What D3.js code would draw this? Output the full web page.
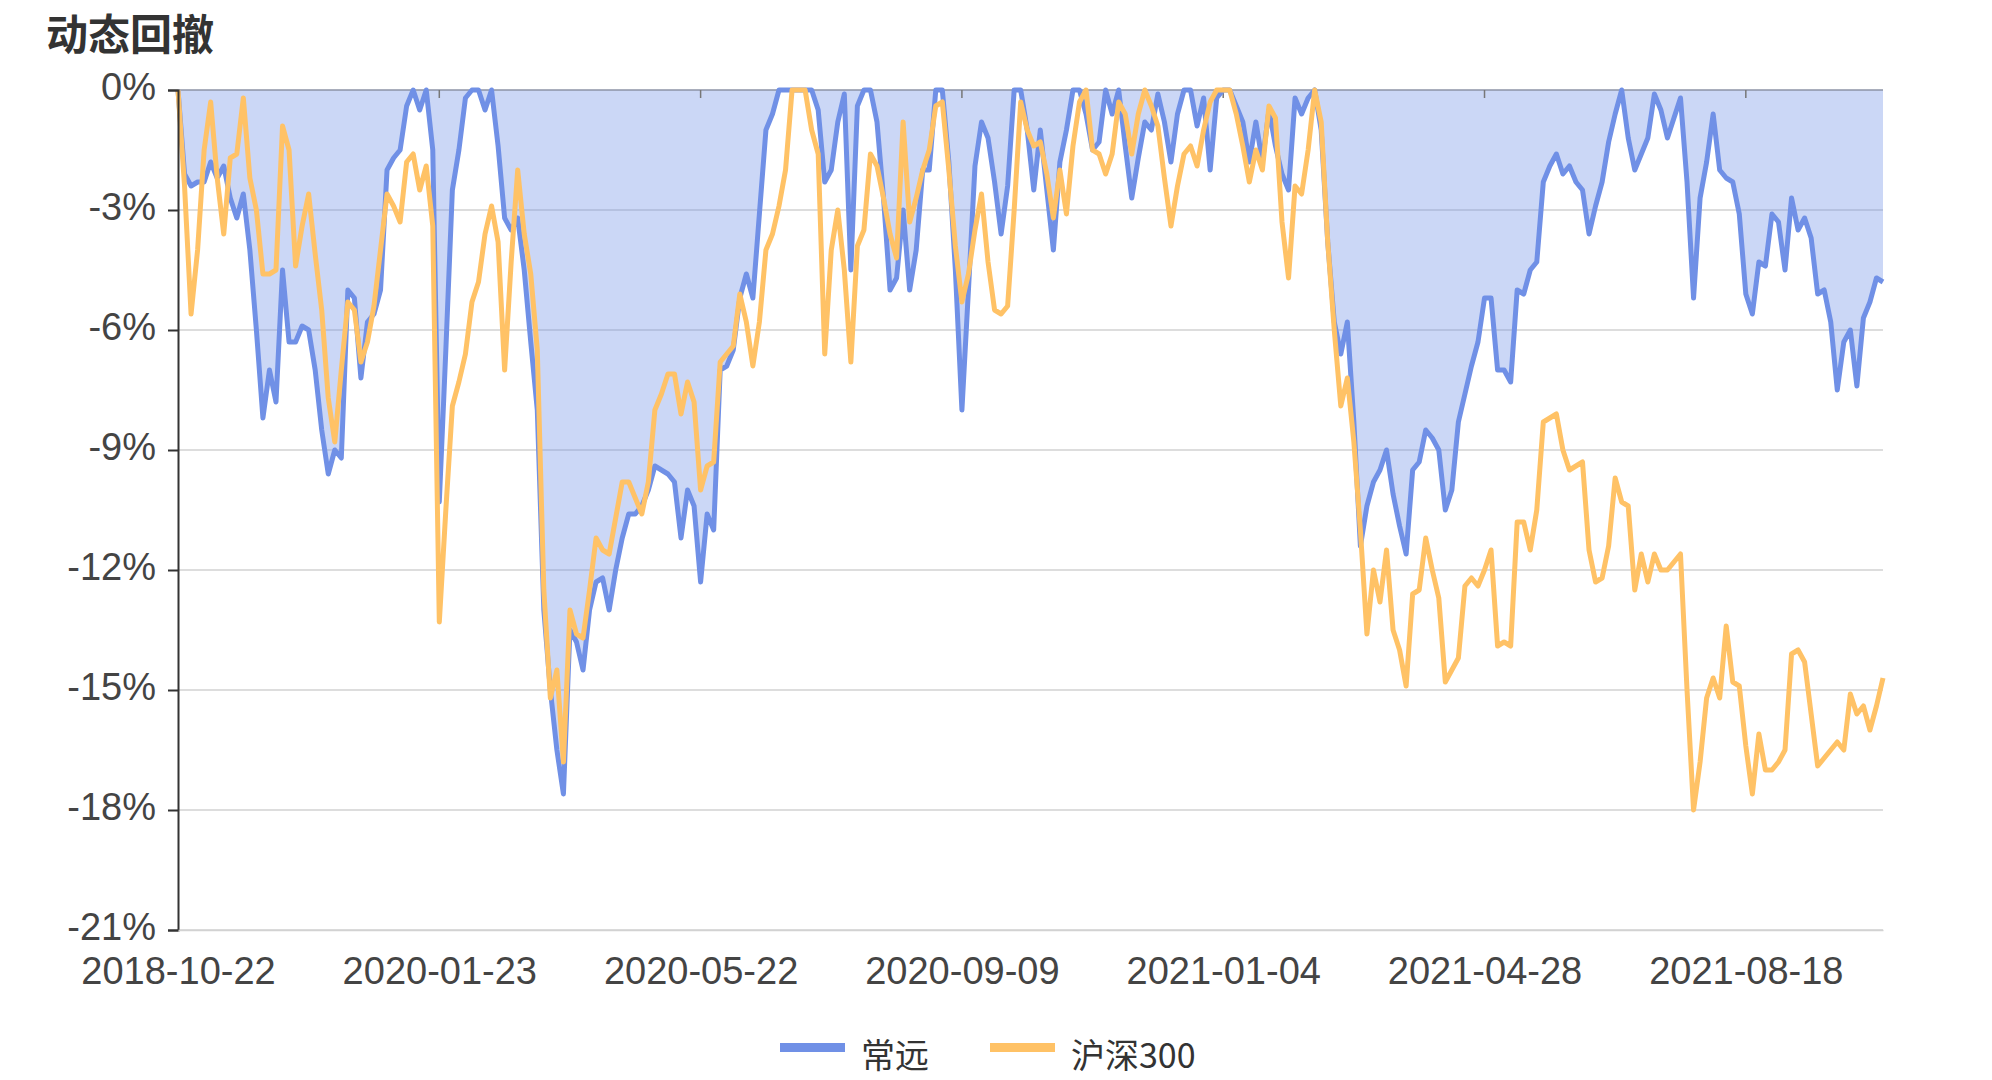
<!DOCTYPE html>
<html>
<head>
<meta charset="utf-8">
<script src="https://cdn.jsdelivr.net/npm/d3@7/dist/d3.min.js"></script>
<style>
  html, body { margin: 0; padding: 0; background: #ffffff; }
  svg { display: block; }
</style>
</head>
<body>
<svg id="chart" width="1992" height="1080"></svg>
<script>
// ---------------- data ----------------
const title = "动态回撤";
const seriesNames = ["常远", "沪深300"];
const tickLabels = ["2018-10-22", "2020-01-23", "2020-05-22", "2020-09-09", "2021-01-04", "2021-04-28", "2021-08-18"];
const tickIndex = [0, 40, 80, 120, 160, 200, 240];
const yTicks = [0, -3, -6, -9, -12, -15, -18, -21];

// 常远 drawdown (%)
const changyuan = [
  0, -2.1, -2.4, -2.3, -2.3, -1.8, -2.2, -1.9, -2.7, -3.2,
  -2.6, -4.0, -6.0, -8.2, -7.0, -7.8, -4.5, -6.3, -6.3, -5.9,
  -6.0, -7.0, -8.5, -9.6, -9.0, -9.2, -5.0, -5.2, -7.2, -5.8,
  -5.6, -5.0, -2.0, -1.7, -1.5, -0.4, 0, -0.5, 0, -1.5,
  -10.3, -6.5, -2.5, -1.5, -0.2, 0, 0, -0.5, 0, -1.4,
  -3.2, -3.5, -3.2, -4.5, -6.3, -8.0, -13.0, -15.0, -16.5, -17.6,
  -13.5, -13.8, -14.5, -13.0, -12.3, -12.2, -13.0, -12.0, -11.2, -10.6,
  -10.6, -10.4, -10.0, -9.4, -9.5, -9.6, -9.8, -11.2, -10.0, -10.4,
  -12.3, -10.6, -11.0, -7.0, -6.9, -6.5, -5.2, -4.6, -5.2, -3.1,
  -1.0, -0.6, 0, 0, 0, 0, 0, 0, -0.5, -2.3,
  -2.0, -0.8, -0.1, -4.5, -0.4, 0, 0, -0.8, -2.7, -5.0,
  -4.7, -3.0, -5.0, -4.0, -2.0, -2.0, 0, 0, -1.8, -4.5,
  -8.0, -5.0, -1.9, -0.8, -1.2, -2.3, -3.6, -2.4, 0, 0,
  -1.0, -2.5, -1.0, -2.5, -4.0, -1.8, -1.0, 0, 0, -0.6,
  -1.5, -1.3, 0, -0.6, 0, -1.4, -2.7, -1.7, -0.8, -1.0,
  -0.1, -0.8, -1.8, -0.6, 0, 0, -0.9, -0.2, -2.0, -0.2,
  0, 0, -0.4, -0.8, -1.8, -0.8, -1.8, -0.5, -1.4, -2.1,
  -2.5, -0.2, -0.6, -0.2, 0, -1.0, -3.8, -5.8, -6.6, -5.8,
  -8.3, -11.4, -10.4, -9.8, -9.5, -9.0, -10.1, -10.9, -11.6, -9.5,
  -9.3, -8.5, -8.7, -9.0, -10.5, -10.0, -8.3, -7.6, -6.9, -6.3,
  -5.2, -5.2, -7.0, -7.0, -7.3, -5.0, -5.1, -4.5, -4.3, -2.3,
  -1.9, -1.6, -2.1, -1.9, -2.3, -2.5, -3.6, -2.9, -2.3, -1.3,
  -0.6, 0, -1.2, -2.0, -1.6, -1.2, -0.1, -0.5, -1.2, -0.7,
  -0.2, -2.3, -5.2, -2.7, -1.8, -0.6, -2.0, -2.2, -2.3, -3.1,
  -5.1, -5.6, -4.3, -4.4, -3.1, -3.3, -4.5, -2.7, -3.5, -3.2,
  -3.7, -5.1, -5.0, -5.8, -7.5, -6.3, -6.0, -7.4, -5.7, -5.3,
  -4.7, -4.8
];

// 沪深300 drawdown (%)
const hs300 = [
  0, -2.4, -5.6, -4.0, -1.5, -0.3, -2.2, -3.6, -1.7, -1.6,
  -0.2, -2.2, -3.0, -4.6, -4.6, -4.5, -0.9, -1.5, -4.4, -3.4,
  -2.6, -4.1, -5.5, -7.7, -8.8, -7.0, -5.3, -5.5, -6.8, -6.3,
  -5.4, -4.0, -2.6, -2.9, -3.3, -1.8, -1.6, -2.5, -1.9, -3.4,
  -13.3, -10.5, -7.9, -7.3, -6.6, -5.3, -4.8, -3.6, -2.9, -3.8,
  -7.0, -4.3, -2.0, -3.6, -4.6, -6.5, -12.5, -15.2, -14.5, -16.8,
  -13.0, -13.6, -13.7, -12.5, -11.2, -11.5, -11.6, -10.7, -9.8, -9.8,
  -10.2, -10.6, -9.8, -8.0, -7.6, -7.1, -7.1, -8.1, -7.3, -7.8,
  -10.0, -9.4, -9.3, -6.8, -6.6, -6.4, -5.1, -5.8, -6.9, -5.8,
  -4.0, -3.6, -2.9, -2.0, 0, 0, 0, -1.0, -1.6, -6.6,
  -4.0, -3.0, -4.5, -6.8, -3.9, -3.5, -1.6, -1.9, -2.7, -3.6,
  -4.2, -0.8, -3.3, -2.7, -2.0, -1.5, -0.4, -0.3, -2.0, -3.9,
  -5.3, -4.6, -3.5, -2.6, -4.3, -5.5, -5.6, -5.4, -3.0, -0.3,
  -1.0, -1.4, -1.3, -2.1, -3.2, -2.0, -3.1, -1.4, -0.3, 0,
  -1.5, -1.6, -2.1, -1.6, -0.3, -0.6, -1.6, -0.6, 0, -0.4,
  -0.9, -2.2, -3.4, -2.4, -1.6, -1.4, -1.9, -1.0, -0.3, 0,
  0, 0, -0.6, -1.4, -2.3, -1.5, -2.0, -0.4, -0.7, -3.3,
  -4.7, -2.4, -2.6, -1.5, 0, -0.8, -3.8, -6.0, -7.9, -7.2,
  -8.8, -11.0, -13.6, -12.0, -12.8, -11.5, -13.5, -14.0, -14.9, -12.6,
  -12.5, -11.2, -12.0, -12.7, -14.8, -14.5, -14.2, -12.4, -12.2, -12.4,
  -12.0, -11.5, -13.9, -13.8, -13.9, -10.8, -10.8, -11.5, -10.5, -8.3,
  -8.2, -8.1, -9.0, -9.5, -9.4, -9.3, -11.5, -12.3, -12.2, -11.4,
  -9.7, -10.3, -10.4, -12.5, -11.6, -12.3, -11.6, -12.0, -12.0, -11.8,
  -11.6, -15.0, -18.0, -16.8, -15.2, -14.7, -15.2, -13.4, -14.8, -14.9,
  -16.4, -17.6, -16.1, -17.0, -17.0, -16.8, -16.5, -14.1, -14.0, -14.3,
  -15.6, -16.9, -16.7, -16.5, -16.3, -16.5, -15.1, -15.6, -15.4, -16.0,
  -15.4, -14.7
];

// ---------------- drawing ----------------
const colors = { blue: "#7090e6", orange: "#ffc266", area: "rgba(112,144,230,0.36)" };
const plot = { left: 178, right: 1883, top: 90, bottom: 930 };
const axisFont = "'Liberation Sans', Arial, sans-serif";

const svg = d3.select("#chart");
const n = changyuan.length;

const x = d3.scaleLinear().domain([0, n - 1]).range([plot.left, plot.right]);
const y = d3.scaleLinear().domain([-21, 0]).range([plot.bottom, plot.top]);

// title
svg.append("text")
  .attr("x", 46).attr("y", 31)
  .attr("dominant-baseline", "central")
  .attr("font-family", "'Noto Sans CJK SC', 'Noto Sans', sans-serif")
  .attr("font-size", 42).attr("font-weight", "bold")
  .attr("fill", "#333")
  .text(title);

// gridlines
svg.append("g").selectAll("line")
  .data(yTicks.filter(d => d !== 0))
  .join("line")
  .attr("x1", plot.left).attr("x2", plot.right)
  .attr("y1", d => y(d)).attr("y2", d => y(d))
  .attr("stroke", "#d2d2d2").attr("stroke-width", 1.5);

// area of 常远 to zero
const area = d3.area()
  .x((d, i) => x(i))
  .y0(y(0))
  .y1(d => y(d));
svg.append("path").datum(changyuan)
  .attr("d", area)
  .attr("fill", colors.area);

// zero line (x axis on zero) with ticks
svg.append("line")
  .attr("x1", plot.left).attr("x2", plot.right)
  .attr("y1", y(0)).attr("y2", y(0))
  .attr("stroke", "#8c93a6").attr("stroke-width", 1.5);
svg.append("g").selectAll("line")
  .data(tickIndex)
  .join("line")
  .attr("x1", d => x(d)).attr("x2", d => x(d))
  .attr("y1", y(0)).attr("y2", y(0) + 8)
  .attr("stroke", "#777").attr("stroke-width", 1.5);

// lines
const line = d3.line()
  .x((d, i) => x(i))
  .y(d => y(d));
svg.append("path").datum(changyuan)
  .attr("d", line)
  .attr("fill", "none")
  .attr("stroke", colors.blue)
  .attr("stroke-width", 5)
  .attr("stroke-linejoin", "round");
svg.append("path").datum(hs300)
  .attr("d", line)
  .attr("fill", "none")
  .attr("stroke", colors.orange)
  .attr("stroke-width", 5)
  .attr("stroke-linejoin", "round");

// y axis
const yAxis = d3.axisLeft(y)
  .tickValues(yTicks)
  .tickSize(10)
  .tickPadding(12)
  .tickFormat(d => d + "%");
const gy = svg.append("g")
  .attr("transform", `translate(${plot.left},0)`)
  .call(yAxis);
gy.select(".domain").attr("stroke", "#333").attr("stroke-width", 2);
gy.selectAll(".tick line").attr("stroke", "#333").attr("stroke-width", 2);
gy.selectAll(".tick text")
  .attr("dy", null)
  .attr("y", -4)
  .attr("dominant-baseline", "central")
  .attr("font-family", axisFont)
  .attr("font-size", 38)
  .attr("fill", "#444");

// x labels at bottom
const xAxis = d3.axisBottom(x)
  .tickValues(tickIndex)
  .tickSize(0)
  .tickPadding(27)
  .tickFormat((d, i) => tickLabels[i]);
const gx = svg.append("g")
  .attr("transform", `translate(0,${plot.bottom})`)
  .call(xAxis);
gx.select(".domain").attr("stroke", "#d2d2d2").attr("stroke-width", 1.5);
gx.selectAll(".tick text")
  .attr("dy", null)
  .attr("y", 41)
  .attr("dominant-baseline", "central")
  .attr("font-family", axisFont)
  .attr("font-size", 38)
  .attr("fill", "#444");

// legend
const legendItems = [
  { name: seriesNames[0], color: colors.blue, x: 780 },
  { name: seriesNames[1], color: colors.orange, x: 990 }
];
const lg = svg.append("g");
legendItems.forEach(it => {
  lg.append("rect")
    .attr("x", it.x).attr("y", 1043)
    .attr("width", 65).attr("height", 9)
    .attr("fill", it.color);
  lg.append("text")
    .attr("x", it.x + 81).attr("y", 1053)
    .attr("dominant-baseline", "central")
    .attr("font-family", "'Noto Sans CJK SC', 'Noto Sans', sans-serif")
    .attr("font-size", 34)
    .attr("fill", "#333")
    .text(it.name);
});
</script>
</body>
</html>
